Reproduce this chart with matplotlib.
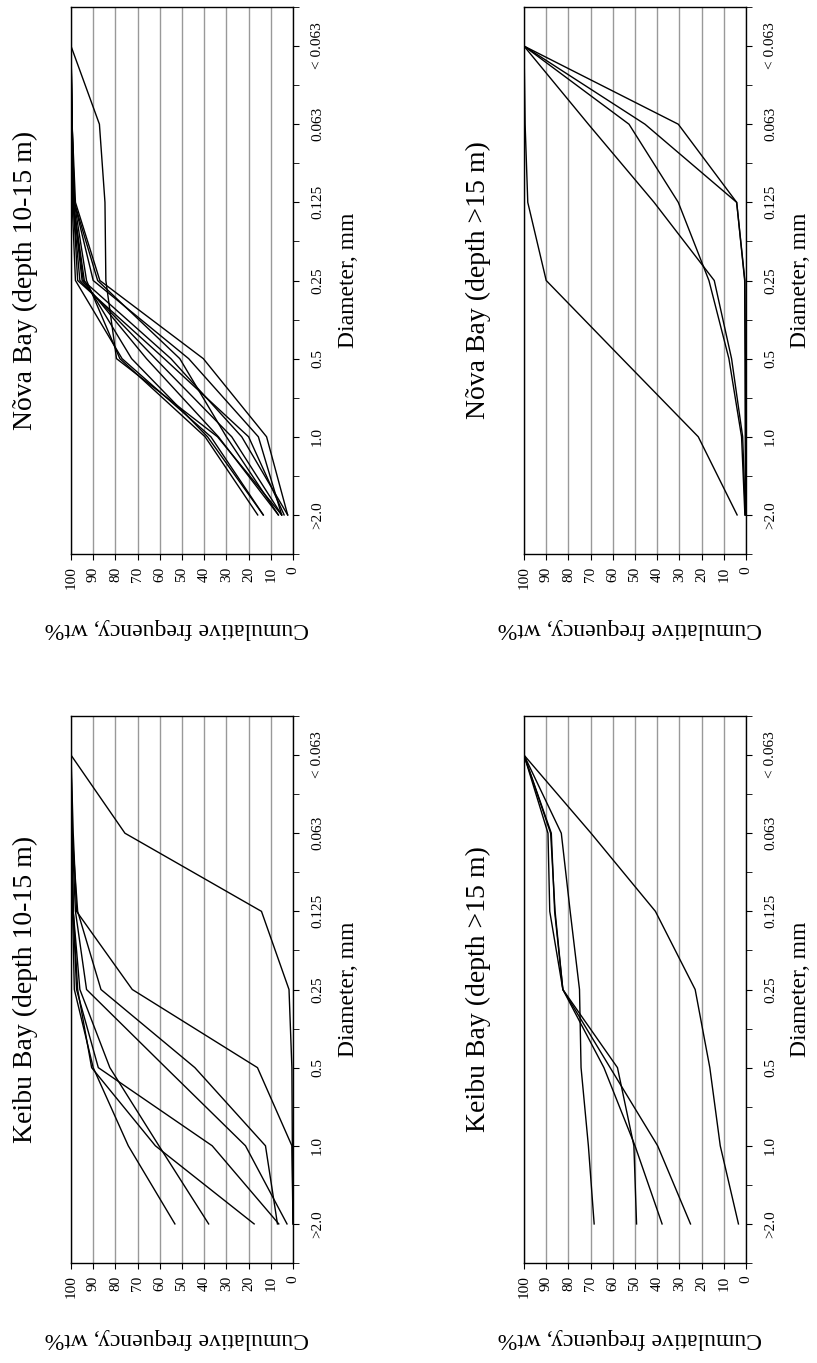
import numpy as np
import matplotlib
matplotlib.use('Agg')
import matplotlib.pyplot as plt

plt.rcParams['font.family'] = ['Liberation Serif', 'DejaVu Serif']

# sieve classes, from coarse to fine (drawn bottom -> top)
diameters = ['>2.0', '1.0', '0.5', '0.25', '0.125', '0.063', '< 0.063']
freq_ticks = [0, 10, 20, 30, 40, 50, 60, 70, 80, 90, 100]

# cumulative frequency, wt% for each sample, in the order of `diameters`
nova_10_15 = [
    [15.9, 39.6, 78.0, 93.0, 98.5, 99.5, 100],
    [13.4, 38.5, 72.7, 94.0, 99.0, 99.7, 100],
    [6.6, 33.6, 66.0, 95.0, 99.0, 99.8, 100],
    [5.1, 27.6, 62.0, 96.0, 99.2, 99.8, 100],
    [2.4, 23.1, 55.0, 94.5, 99.0, 99.7, 100],
    [5.1, 15.6, 47.0, 90.0, 98.5, 99.5, 100],
    [2.4, 11.9, 40.4, 87.0, 98.0, 99.5, 100],
    [6.6, 30.0, 51.0, 88.0, 98.5, 99.6, 100],
    [13.4, 37.0, 77.0, 98.0, 99.5, 100, 100],
    [5.1, 34.0, 79.5, 84.3, 84.7, 87.2, 100],
    [4.0, 20.0, 58.0, 97.0, 99.0, 99.8, 100],
]
nova_15 = [
    [0.2, 0.3, 0.4, 0.6, 4.2, 30.5, 100],
    [0.2, 0.2, 0.3, 0.5, 4.2, 45.5, 100],
    [0.5, 2.0, 7.7, 16.7, 30.5, 52.7, 100],
    [0.3, 1.5, 6.5, 14.3, 41.4, 71.0, 100],
    [4.0, 21.5, 55.8, 90.0, 98.3, 99.5, 100],
]
keibu_10_15 = [
    [0.0, 0.3, 0.5, 1.8, 14.2, 75.7, 100],
    [0.0, 0.5, 16.0, 72.4, 97.5, 99.0, 100],
    [7.0, 12.4, 44.2, 86.5, 97.0, 99.5, 100],
    [2.7, 21.4, 57.3, 93.0, 98.0, 99.5, 100],
    [6.4, 36.4, 87.7, 97.5, 99.0, 99.7, 100],
    [53.2, 74.2, 90.0, 98.5, 99.3, 99.8, 100],
    [38.0, 60.4, 82.5, 96.0, 99.0, 99.7, 100],
    [17.5, 62.0, 90.7, 97.0, 99.0, 99.7, 100],
]
keibu_15 = [
    [3.4, 11.6, 16.3, 22.9, 40.8, 69.8, 100],
    [68.4, 71.0, 74.3, 75.0, 79.2, 83.2, 100],
    [49.3, 50.5, 57.9, 82.5, 88.4, 89.2, 100],
    [37.8, 50.0, 64.0, 82.5, 86.2, 87.7, 100],
    [25.0, 39.8, 61.2, 82.5, 86.0, 88.0, 100],
]

panels = [
    ('Nõva Bay (depth 10-15 m)', nova_10_15, 71, 7),
    ('Nõva Bay (depth >15 m)', nova_15, 524, 7),
    ('Keibu Bay (depth 10-15 m)', keibu_10_15, 71, 716),
    ('Keibu Bay (depth >15 m)', keibu_15, 524, 716),
]

W, H = 817, 1363
ax_w, ax_h = 222, 547

fig = plt.figure(figsize=(W / 100, H / 100), dpi=100)

# category positions: one every second tick, plot turned on its side
pos = [1 + 2 * i for i in range(len(diameters))]

for title, samples, x0, y0 in panels:
    ax = fig.add_axes([x0 / W, 1 - (y0 + ax_h) / H, ax_w / W, ax_h / H])
    for s in samples:
        ax.plot(s, pos, color='black', lw=1.0)

    ax.set_xlim(100, 0)
    ax.set_ylim(0, 14)

    ax.set_xticks(freq_ticks)
    ax.set_xticklabels([str(t) for t in freq_ticks], rotation=90)
    ax.tick_params(axis='x', direction='out', length=4, labelsize=11, pad=5)

    ax.yaxis.tick_right()
    ax.set_yticks(pos)
    ax.set_yticklabels(diameters, rotation=90, va='center')
    ax.set_yticks(np.arange(0, 15, 2), minor=True)
    ax.tick_params(axis='y', which='both', direction='out', length=4,
                   labelsize=11, pad=9)

    ax.grid(axis='x', color='#999999', lw=1)
    ax.set_axisbelow(True)
    for sp in ax.spines.values():
        sp.set_color('black')
        sp.set_linewidth(1.0)

    # labels (whole page is turned 90 degrees)
    fig.text((x0 - 46) / W, 1 - (y0 + ax_h / 2) / H, title,
             rotation=90, ha='center', va='center', fontsize=20)
    fig.text((x0 + ax_w + 55) / W, 1 - (y0 + ax_h / 2) / H, 'Diameter, mm',
             rotation=90, ha='center', va='center', fontsize=17)
    fig.text((x0 + 106) / W, 1 - (y0 + ax_h + 75) / H, 'Cumulative frequency, wt%',
             rotation=180, ha='center', va='center', fontsize=17)

fig.savefig('out.png', dpi=100)
